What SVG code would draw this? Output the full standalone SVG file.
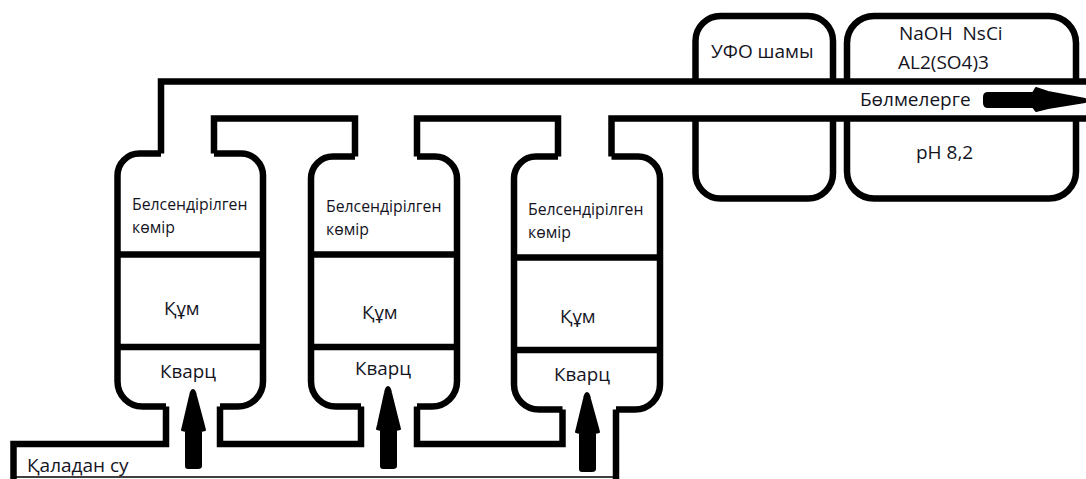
<svg xmlns="http://www.w3.org/2000/svg" width="1086" height="479" viewBox="0 0 1086 479">
<style>
.w{fill:none;stroke:#000;stroke-width:6.5;stroke-linejoin:miter}
.a{fill:#000;stroke:#000;stroke-width:2;stroke-linejoin:round}
text{font-family:"Open Sans","Noto Sans","DejaVu Sans",sans-serif;fill:#14141e}
.s{font-size:15.800px}
.m{font-size:19px}
.l{font-size:18.800px}
</style>
<rect width="1086" height="479" fill="#fff"/>
<g id="connectors">
<path class="w" d="M161 153.500V81.500H1086"/>
<path class="w" d="M166 406.500V444H13.500V479"/>
<path class="w" d="M214 153.500V118.500H355V156.500"/>
<path class="w" d="M220 406.500V444H361V406.500"/>
<path class="w" d="M417 156.500V118.500H558V156.500"/>
<path class="w" d="M417 406.500V444H562.500V409.500"/>
<path class="w" d="M1086 118.500H611.500V156.500"/>
<path class="w" d="M616 409.500V479"/>
<path d="M13 477H616" fill="none" stroke="#000" stroke-width="1.500"/>
<path class="a" d="M193 390Q195 390 196 396L204 426L205 430L201 431V466Q201 468 198 468H188Q186 468 186 466V431L182 430L183 426L190 396Q191 390 193 390Z"/>
<path class="a" d="M388 387Q390 387 391 393L399 425L400 429L396 430V466Q396 468 393 468H383Q381 468 381 466V430L377 429L378 425L385 393Q386 387 388 387Z"/>
<path class="a" d="M587 393Q589 393 590 399L598 428L599 432L595 433V469Q595 471 592 471H582Q580 471 580 469V433L576 432L577 428L584 399Q585 393 587 393Z"/>
<path class="a" d="M1085 99L1048 92L1036 88L1033 93H988Q984 93 984 97V103Q984 107 988 107H1033L1036 111L1048 108L1085 102Z"/>
</g>
<g id="tank-1">
<path class="w" d="M161 153.500H139.500A22 22 0 0 0 117.500 175.500V381.500A25 25 0 0 0 142.500 406.500H166"/>
<path class="w" d="M214 153.500H241A22 22 0 0 1 263 175.500V381.500A25 25 0 0 1 238 406.500H220"/>
<path class="w" d="M117.500 254.500H263M117.500 347H263"/>
<text class="s" x="132" y="210">Белсендірілген</text>
<text class="s" x="132" y="233">көмір</text>
<text class="l" x="164" y="315">Құм</text>
<text class="l" x="160" y="378">Кварц</text>
</g>
<g id="tank-2">
<path class="w" d="M355 156.500H333A22 22 0 0 0 311 178.500V381.500A25 25 0 0 0 336 406.500H361"/>
<path class="w" d="M417 156.500H435A22 22 0 0 1 457 178.500V381.500A25 25 0 0 1 432 406.500H417"/>
<path class="w" d="M311 254.500H457M311 347H457"/>
<text class="s" x="326" y="212">Белсендірілген</text>
<text class="s" x="326" y="235">көмір</text>
<text class="l" x="362" y="319">Құм</text>
<text class="l" x="355" y="375">Кварц</text>
</g>
<g id="tank-3">
<path class="w" d="M558 156.500H536A22 22 0 0 0 514 178.500V384.500A25 25 0 0 0 539 409.500H562.500"/>
<path class="w" d="M611.500 156.500H638A22 22 0 0 1 660 178.500V384.500A25 25 0 0 1 635 409.500H616"/>
<path class="w" d="M514 257.500H660M514 350H660"/>
<text class="s" x="528" y="215">Белсендірілген</text>
<text class="s" x="528" y="238">көмір</text>
<text class="l" x="560" y="323">Құм</text>
<text class="l" x="554" y="381">Кварц</text>
</g>
<g id="uv-lamp">
<path class="w" d="M695.500 81.500V41A25 25 0 0 1 720.500 16H808A25 25 0 0 1 833 41V81.500"/>
<path class="w" d="M695.500 118.500V173.500A25 25 0 0 0 720.500 198.500H808A25 25 0 0 0 833 173.500V118.500"/>
<text class="m" x="711" y="58">УФО шамы</text>
</g>
<g id="chemicals">
<path class="w" d="M847 81.500V43A27 27 0 0 1 874 16H1049A27 27 0 0 1 1076 43V81.500"/>
<path class="w" d="M847 118.500V171.500A27 27 0 0 0 874 198.500H1049A27 27 0 0 0 1076 171.500V118.500"/>
<text class="m" x="899" y="40" xml:space="preserve">NaOH  NsCi</text>
<text class="m" x="898" y="69">AL2(SO4)3</text>
<text class="m" x="916" y="159">pH 8,2</text>
</g>
<g id="labels">
<text class="m" x="27" y="472">Қаладан су</text>
<text class="m" x="860" y="106">Бөлмелерге</text>
</g>
</svg>
